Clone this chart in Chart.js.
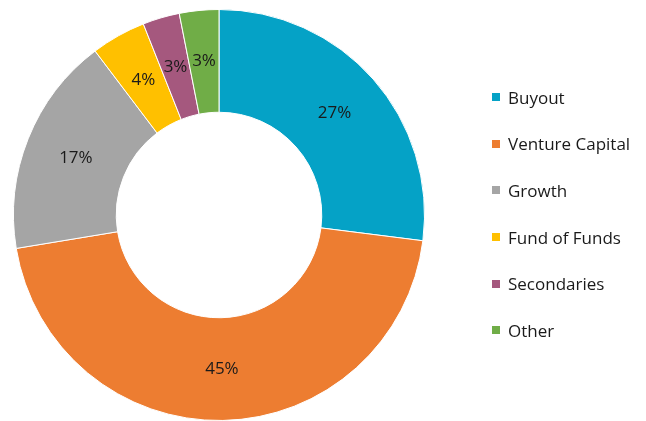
<!DOCTYPE html>
<html lang="en">
<head>
    <meta charset="UTF-8">
    <title>Fund Type Breakdown</title>
    <style>
        body { margin: 0; padding: 0; background: #fff; font-family: 'Open Sans', Arial, sans-serif; }
        .wrap { position: relative; width: 646px; height: 421px; }
        #chart { position: absolute; left: 0; top: 0; }
        #legend { position: absolute; left: 492px; top: 74px; margin: 0; padding: 0; list-style: none; }
        #legend li { height: 46.6px; display: flex; align-items: center; font-size: 17px; color: #1a1a1a; white-space: nowrap; }
        #legend .box { width: 8px; height: 8px; margin-right: 8px; flex: none; }
    </style>
</head>
<body>
    <div class="wrap">
        <canvas id="chart" width="646" height="421"></canvas>
        <ul id="legend"></ul>
    </div>

    <script src="https://cdn.jsdelivr.net/npm/chart.js"></script>
    <script>
        const labels = ['Buyout', 'Venture Capital', 'Growth', 'Fund of Funds', 'Secondaries', 'Other'];
        const shares = [27.0, 45.4, 17.3, 4.3, 2.9, 3.1]; // % of total
        const colors = ['#05A2C6', '#ED7D31', '#A5A5A5', '#FFC000', '#A5587E', '#70AD47'];

        // percentage labels in the middle of each slice
        const sliceLabels = {
            id: 'sliceLabels',
            afterDatasetsDraw(chart) {
                const ctx = chart.ctx;
                const meta = chart.getDatasetMeta(0);
                ctx.save();
                ctx.font = '17px "Open Sans", Arial, sans-serif';
                ctx.fillStyle = '#1a1a1a';
                ctx.textAlign = 'center';
                ctx.textBaseline = 'middle';
                meta.data.forEach((arc, i) => {
                    const p = arc.tooltipPosition();
                    ctx.fillText(Math.round(shares[i]) + '%', p.x, p.y);
                });
                ctx.restore();
            }
        };

        new Chart(document.getElementById('chart'), {
            type: 'doughnut',
            data: {
                labels: labels,
                datasets: [{
                    data: shares,
                    backgroundColor: colors,
                    borderColor: '#fff',
                    borderWidth: 1
                }]
            },
            options: {
                responsive: false,
                animation: false,
                events: [],
                cutout: '50%',
                layout: { padding: { top: 9, right: 208, bottom: 0, left: 0 } },
                plugins: {
                    legend: { display: false },
                    tooltip: { enabled: false }
                }
            },
            plugins: [sliceLabels]
        });

        const legend = document.getElementById('legend');
        labels.forEach((name, i) => {
            const li = document.createElement('li');
            li.innerHTML = `<span class="box" style="background:${colors[i]}"></span>${name}`;
            legend.appendChild(li);
        });
    </script>
</body>
</html>
